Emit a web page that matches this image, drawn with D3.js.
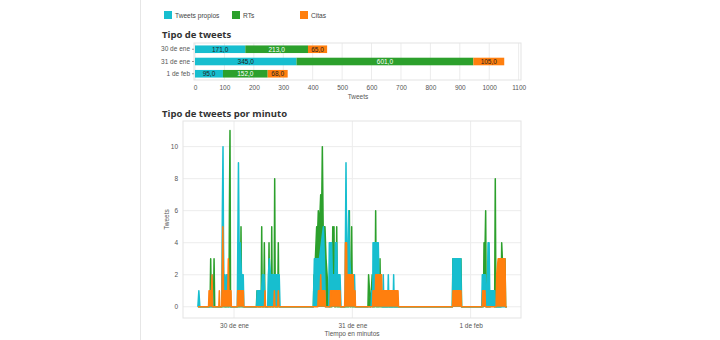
<!DOCTYPE html>
<html>
<head>
  <script src="https://cdn.jsdelivr.net/npm/d3@7"></script>
  <style>
    body { margin: 0; background: #fff; font-family: "Liberation Sans", Arial, sans-serif; }
    .grid line { stroke: #ececec; stroke-width: 1; }
    .frame { fill: none; stroke: #e3e3e3; stroke-width: 1; }
    .tick text { fill: #555; font-size: 6.5px; }
    .title { font-family: "Open Sans", sans-serif; font-weight: bold; font-size: 9.5px; fill: #333; }
    .axis-label { fill: #555; font-size: 6.5px; }
  </style>
</head>
<body>
  <svg id="chart" width="720" height="340"></svg>
  <script>
    // series names and colours
    const seriesNames = ["Tweets propios", "RTs", "Citas"];
    const colors = ["#17becf", "#2ca02c", "#ff7f0e"];

    // Tipo de tweets (per day)
    const days = ["30 de ene", "31 de ene", "1 de feb"];
    const propios = [171, 345, 95];
    const rts = [213, 601, 152];
    const citas = [65, 105, 68];
    const barTicks = [0, 100, 200, 300, 400, 500, 600, 700, 800, 900, 1000, 1100];

    // Tipo de tweets por minuto: [minuto desde 29 ene 00:00, tweets]
    const propiosMin = [
      [1000,0],[1012,1],[1024,0],[1160,0],[1172,2],[1184,0],
      [1290,0],[1298,6],[1306,10],[1314,2],[1330,2],[1340,0],[1350,2],[1366,2],[1378,0],
      [1480,0],[1494,9],[1506,1],[1516,4],[1530,2],[1552,2],[1560,0],
      [1715,0],[1722,1],[1776,1],[1786,2],[1806,2],[1816,0],[1850,0],[1858,2],[1870,3],[1884,2],[1990,2],[2000,0],
      [2405,0],[2418,3],[2480,3],[2528,5],[2540,3],[2552,0],
      [2592,0],[2600,4],[2628,4],[2636,2],[2668,2],[2674,4],[2690,4],[2698,2],[2730,2],[2742,0],
      [2790,0],[2796,4],[2803,9],[2810,4],[2828,4],[2836,6],[2846,3],[2860,2],[2906,2],[2916,0],
      [3108,0],[3115,1],[3128,0],[3132,4],[3196,4],[3206,1],[3250,0],[3257,2],[3264,0],
      [3310,0],[3318,2],[3326,0],[3376,0],[3383,2],[3390,0],
      [4098,0],[4105,3],[4200,3],[4208,0],
      [4455,0],[4462,2],[4500,2],[4520,0],[4532,4],[4545,4],[4552,1],[4615,1],[4622,0],[4762,0]
    ];
    const rtsMin = [
      [1000,0],[1148,0],[1156,3],[1164,0],[1190,0],[1197,3],[1205,0],
      [1300,0],[1306,6],[1314,0],[1378,0],[1384,6],[1391,11],[1398,0],
      [1518,0],[1525,5],[1532,0],
      [1712,0],[1720,1],[1728,0],[1770,0],[1777,5],[1784,0],[1802,0],[1809,4],[1816,0],
      [1859,0],[1866,4],[1873,0],[1892,0],[1899,5],[1906,0],[1928,0],[1935,8],[1942,0],[1972,0],[1979,4],[1986,0],
      [2406,0],[2414,2],[2422,2],[2446,5],[2460,5],[2466,6],[2480,5],[2495,7],[2505,5],[2515,10],[2525,5],[2547,5],[2560,3],[2598,0],
      [2632,0],[2642,5],[2648,4],[2657,5],[2664,0],[2682,0],[2690,5],[2698,0],
      [2836,0],[2844,6],[2852,0],[2865,0],[2872,5],[2880,0],
      [3070,0],[3078,2],[3100,0],[3122,2],[3130,0],[3156,0],[3164,6],[3172,0],[3210,0],[3217,3],[3224,0],
      [4098,0],[4104,3],[4202,3],[4210,0],
      [4475,0],[4483,4],[4490,2],[4503,6],[4510,0],[4560,0],[4570,1],[4612,0],[4620,8],[4628,0],
      [4690,0],[4698,4],[4706,3],[4738,3],[4746,0],[4762,0]
    ];
    const citasMin = [
      [1002,0],[1130,0],[1136,1],[1166,1],[1172,2],[1180,0],[1255,0],[1261,1],[1267,0],
      [1290,0],[1294,1],[1304,5],[1312,1],[1364,1],[1371,3],[1378,1],[1403,1],[1408,0],
      [1480,0],[1485,1],[1553,1],[1558,0],
      [1810,0],[1817,1],[1824,0],[1924,0],[1931,1],[1938,0],[1972,0],[1979,1],[1986,0],
      [2460,0],[2467,1],[2490,1],[2495,2],[2500,1],[2547,1],[2552,0],
      [2608,0],[2614,1],[2730,1],[2736,0],
      [2786,0],[2791,1],[2796,4],[2810,4],[2814,2],[2890,2],[2896,1],[2913,1],[2918,0],
      [3126,0],[3132,1],[3160,1],[3164,2],[3236,2],[3240,1],[3436,1],[3442,0],
      [4100,0],[4105,1],[4203,1],[4208,0],
      [4460,0],[4467,1],[4495,1],[4500,0],[4630,0],[4637,2],[4655,3],[4738,3],[4746,0],[4762,0]
    ];
    const minuteTicks = [1440, 2880, 4320];
    const minuteTickLabels = ["30 de ene", "31 de ene", "1 de feb"];
    const countTicks = [0, 2, 4, 6, 8, 10];

    const es = d3.formatLocale({ decimal: ",", thousands: ".", grouping: [3], currency: ["", "€"] });
    const fmt = es.format(".1f");

    const svg = d3.select("#chart");

    // page divider
    svg.append("line").attr("x1", 140.5).attr("x2", 140.5).attr("y1", 0).attr("y2", 340)
      .attr("stroke", "#e6e6e6");

    // legend
    const legendX = [164, 232, 300];
    const legend = svg.append("g").selectAll("g").data(seriesNames).join("g")
      .attr("transform", (d, i) => `translate(${legendX[i]},11)`);
    legend.append("rect").attr("width", 8).attr("height", 8).attr("fill", (d, i) => colors[i]);
    legend.append("text").attr("x", 11).attr("y", 6.5).attr("font-size", "6.6px").attr("fill", "#444").text(d => d);

    // ---------- Tipo de tweets ----------
    svg.append("text").attr("class", "title").attr("x", 162).attr("y", 38).text("Tipo de tweets");

    const b = { left: 195, right: 521, top: 43, bottom: 80 };
    const bx = d3.scaleLinear().domain([0, 1108]).range([b.left, b.right]);
    const by = d3.scaleBand().domain(days).range([b.top, b.bottom]).paddingInner(0.38).paddingOuter(0.2);

    svg.append("g").attr("class", "grid").selectAll("line").data(barTicks).join("line")
      .attr("x1", d => bx(d)).attr("x2", d => bx(d)).attr("y1", b.top).attr("y2", b.bottom);
    svg.append("rect").attr("class", "frame")
      .attr("x", b.left - 1).attr("y", b.top).attr("width", b.right - b.left + 1).attr("height", b.bottom - b.top);

    const stacked = days.map((d, i) => {
      const vals = [propios[i], rts[i], citas[i]];
      let x0 = 0;
      return vals.map((v, k) => { const s = { day: d, k, v, x0 }; x0 += v; return s; });
    }).flat();

    const seg = svg.append("g").selectAll("g").data(stacked).join("g");
    seg.append("rect")
      .attr("x", d => bx(d.x0)).attr("y", d => by(d.day))
      .attr("width", d => bx(d.x0 + d.v) - bx(d.x0)).attr("height", by.bandwidth())
      .attr("fill", d => colors[d.k]);
    seg.append("text")
      .attr("x", d => (bx(d.x0) + bx(d.x0 + d.v)) / 2).attr("y", d => by(d.day) + by.bandwidth() / 2 + 2.3)
      .attr("text-anchor", "middle").attr("font-size", "6.5px")
      .attr("fill", d => d.k === 1 ? "#fff" : "#222")
      .text(d => fmt(d.v));

    const bxAxis = svg.append("g").attr("transform", `translate(0,${b.bottom})`)
      .call(d3.axisBottom(bx).tickValues(barTicks).tickSize(0).tickPadding(5).tickFormat(d3.format("d")));
    bxAxis.select(".domain").remove();
    const byAxis = svg.append("g").attr("transform", `translate(${b.left - 1},0)`)
      .call(d3.axisLeft(by).tickSize(2).tickPadding(2));
    byAxis.select(".domain").remove();
    byAxis.selectAll(".tick line").attr("stroke", "#999");
    svg.append("text").attr("class", "axis-label").attr("x", (b.left + b.right) / 2).attr("y", 98.5)
      .attr("text-anchor", "middle").text("Tweets");

    // ---------- Tipo de tweets por minuto ----------
    svg.append("text").attr("class", "title").attr("x", 162).attr("y", 117).text("Tipo de tweets por minuto");

    const m = { left: 183, right: 521, top: 121, bottom: 318 };
    const mx = d3.scaleLinear().domain([819, 4933]).range([m.left, m.right]);
    const my = d3.scaleLinear().domain([-0.7, 11.6]).range([m.bottom, m.top]);

    const grid = svg.append("g").attr("class", "grid");
    grid.selectAll("line.h").data(countTicks).join("line").attr("class", "h")
      .attr("x1", m.left).attr("x2", m.right).attr("y1", d => my(d)).attr("y2", d => my(d));
    grid.selectAll("line.v").data(minuteTicks).join("line").attr("class", "v")
      .attr("x1", d => mx(d)).attr("x2", d => mx(d)).attr("y1", m.top).attr("y2", m.bottom);
    svg.append("rect").attr("class", "frame")
      .attr("x", m.left).attr("y", m.top).attr("width", m.right - m.left).attr("height", m.bottom - m.top);

    const area = d3.area().x(d => mx(d[0])).y0(my(0)).y1(d => my(d[1]));
    const line = d3.line().x(d => mx(d[0])).y(d => my(d[1]));
    const minuteSeries = [
      { data: rtsMin, color: colors[1] },
      { data: propiosMin, color: colors[0] },
      { data: citasMin, color: colors[2] }
    ];
    const sg = svg.append("g").selectAll("g").data(minuteSeries).join("g");
    sg.append("path").attr("d", d => area(d.data)).attr("fill", d => d.color);
    sg.append("path").attr("d", d => line(d.data)).attr("fill", "none")
      .attr("stroke", d => d.color).attr("stroke-width", 1.5).attr("stroke-linejoin", "round");

    const mxAxis = svg.append("g").attr("transform", `translate(0,${m.bottom})`)
      .call(d3.axisBottom(mx).tickValues(minuteTicks).tickSize(0).tickPadding(5)
        .tickFormat((d, i) => minuteTickLabels[i]));
    mxAxis.select(".domain").remove();
    const myAxis = svg.append("g").attr("transform", `translate(${m.left},0)`)
      .call(d3.axisLeft(my).tickValues(countTicks).tickSize(0).tickPadding(5));
    myAxis.select(".domain").remove();

    svg.append("text").attr("class", "axis-label").attr("x", (m.left + m.right) / 2).attr("y", 336)
      .attr("text-anchor", "middle").text("Tiempo en minutos");
    svg.append("text").attr("class", "axis-label")
      .attr("transform", `translate(169,${(m.top + m.bottom) / 2}) rotate(-90)`)
      .attr("text-anchor", "middle").text("Tweets");
  </script>
</body>
</html>
